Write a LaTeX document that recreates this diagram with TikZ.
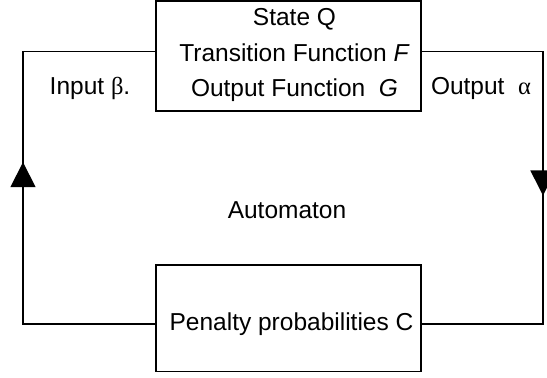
\documentclass[tikz,border=0pt]{standalone}
\usepackage{fontspec}
\setmainfont{Liberation Sans}
\newfontfamily\greekfont{Liberation Serif}
\usetikzlibrary{positioning, arrows.meta, decorations.markings}
\tikzset{
  automatonbox/.style={
    rectangle,
    draw,
    line width=1.6pt,
    minimum width=265pt,
    inner sep=0pt
  },
  boxtext/.style={
    align=center,
    inner sep=0pt
  },
  loopline/.style={
    line width=1.6pt
  },
  looparrow/.style={
    loopline,
    postaction={decorate},
    decoration={markings,
      mark=at position #1 with {\arrow{Triangle[length=25pt,width=25pt]}}}
  },
  looplabel/.style={
    inner sep=0pt
  }
}

\begin{document}
\begin{tikzpicture}[x=1pt, y=1pt, font=\fontsize{24.5}{35.5}\selectfont]
  \useasboundingbox (0,0) rectangle (547,378);

  \node[automatonbox, minimum height=110pt] (state) at (288.5,322) {};
  \node[boxtext] (statetext) at ([xshift=6pt,yshift=1pt]state.center)
    {State Q\\Transition Function \textit{F}\\Output Function\ \ \textit{G}};
  \node[automatonbox, minimum height=106.7pt] (penalty) at (288.5,59.7) {};
  \node[boxtext] (penaltytext) at ([xshift=3pt,yshift=-5.7pt]penalty.center)
    {Penalty probabilities C};

  \node[looplabel] (input) at (90,290) {Input {\greekfont β}.};
  \node[looplabel] (output) at (481,290) {Output\ \ {\greekfont α}};
  \node[looplabel] (automaton) at (287,168) {Automaton};

  % corners of the feedback loop
  \coordinate (inturn) at (23,326.3);
  \coordinate (outturn) at (543,326.3);

  \draw[looparrow=294pt] ([yshift=-5.7pt]penalty.west) -| (inturn) -- (inturn -| state.west);
  \draw[looparrow=265pt] (outturn -| state.east) -- (outturn) |- ([yshift=-5.7pt]penalty.east);
\end{tikzpicture}
\end{document}
